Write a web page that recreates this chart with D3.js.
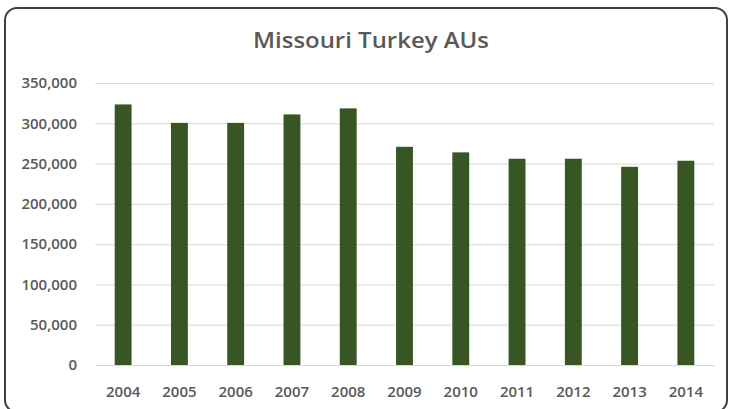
<!DOCTYPE html>
<html>
<head>
<meta charset="utf-8">
<script src="https://cdn.jsdelivr.net/npm/d3@7"></script>
<style>
  body { margin: 0; background: #fff; }
</style>
</head>
<body>
<div id="chart"></div>
<script>
const WIDTH = 731;
const HEIGHT = 409;
// plot area
const MARGIN = { top: 83, right: 17, bottom: 44, left: 95 };

const TITLE = "Missouri Turkey AUs";
const years = ["2004", "2005", "2006", "2007", "2008", "2009", "2010", "2011", "2012", "2013", "2014"];
const turkeyAUs = [323400, 300500, 300500, 311000, 318500, 270800, 263900, 256000, 256000, 246000, 253500];
const yTicks = [0, 50000, 100000, 150000, 200000, 250000, 300000, 350000];

const BAR_COLOR = "#375623";
const TEXT_COLOR = "#595959";
const GRID_COLOR = "#d9d9d9";
const FONT = "'Open Sans', 'Liberation Sans', sans-serif";

const svg = d3.select("#chart")
  .append("svg")
  .attr("width", WIDTH)
  .attr("height", HEIGHT);

// chart frame
svg.append("rect")
  .attr("x", 5)
  .attr("y", 8)
  .attr("width", 722)
  .attr("height", 404)
  .attr("rx", 12)
  .attr("fill", "#fff")
  .attr("stroke", "#404040")
  .attr("stroke-width", 2);

const xScale = d3.scaleBand()
  .domain(years)
  .range([MARGIN.left, WIDTH - MARGIN.right])
  .paddingInner(0.7)
  .paddingOuter(0.35);

const yScale = d3.scaleLinear()
  .domain([0, 350000])
  .range([HEIGHT - MARGIN.bottom, MARGIN.top]);

// title
svg.append("text")
  .attr("x", 371)
  .attr("y", 48)
  .attr("text-anchor", "middle")
  .attr("fill", TEXT_COLOR)
  .attr("font-family", FONT)
  .attr("font-weight", 600)
  .attr("font-size", "22px")
  .attr("textLength", 236)
  .attr("lengthAdjust", "spacingAndGlyphs")
  .text(TITLE);

// gridlines + y labels
const yAxis = svg.append("g")
  .attr("transform", `translate(${MARGIN.left}, 0)`)
  .call(d3.axisLeft(yScale)
    .tickValues(yTicks)
    .tickSize(-(WIDTH - MARGIN.left - MARGIN.right))
    .tickPadding(18)
    .tickFormat(d3.format(",")));
yAxis.select(".domain").remove();
yAxis.selectAll("line").attr("stroke", GRID_COLOR).attr("stroke-width", 1);
yAxis.selectAll("text")
  .attr("fill", TEXT_COLOR)
  .attr("font-family", FONT)
  .attr("font-weight", 600)
  .attr("font-size", "15px");

// bars
svg.selectAll("rect.bar")
  .data(turkeyAUs)
  .enter()
  .append("rect")
  .attr("class", "bar")
  .attr("x", (d, i) => xScale(years[i]))
  .attr("y", (d) => yScale(d))
  .attr("width", xScale.bandwidth())
  .attr("height", (d) => yScale(0) - yScale(d))
  .attr("fill", BAR_COLOR);

// x labels
const xAxis = svg.append("g")
  .attr("transform", `translate(0, ${HEIGHT - MARGIN.bottom})`)
  .call(d3.axisBottom(xScale).tickSize(0).tickPadding(21));
xAxis.select(".domain").attr("stroke", GRID_COLOR);
xAxis.selectAll("text")
  .attr("fill", TEXT_COLOR)
  .attr("font-family", FONT)
  .attr("font-weight", 600)
  .attr("font-size", "15px");
</script>
</body>
</html>
